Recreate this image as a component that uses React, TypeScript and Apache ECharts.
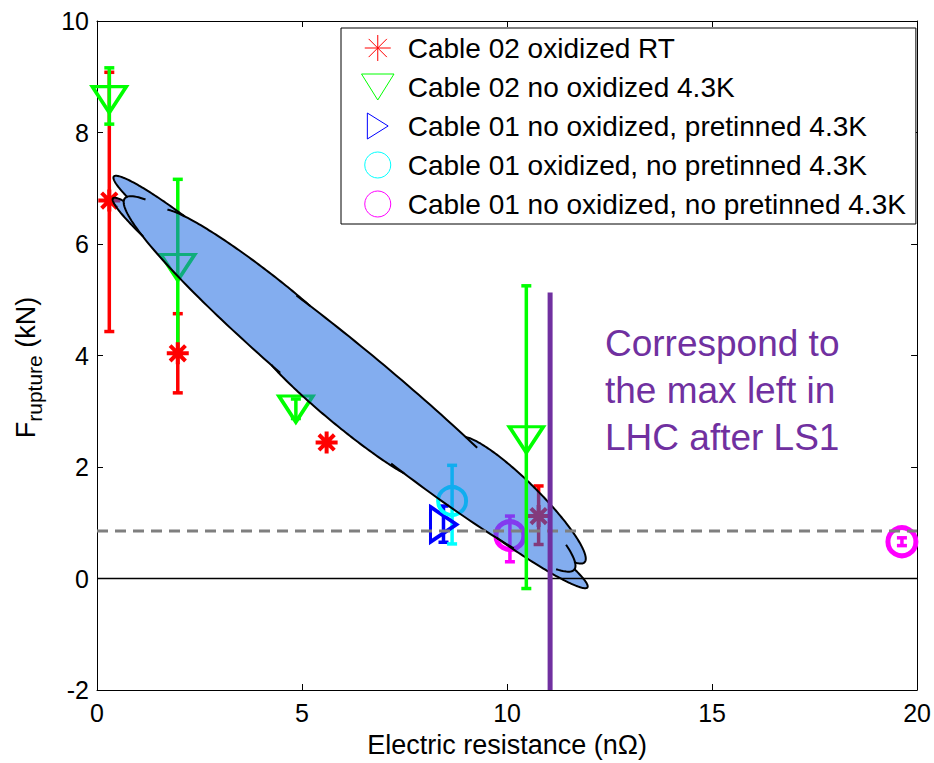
import React, { useEffect, useRef } from "react";
import * as echarts from "echarts";

// ---- data ----
const seriesNames = [
  "Cable 02 oxidized RT",
  "Cable 02 no oxidized 4.3K",
  "Cable 01 no oxidized, pretinned 4.3K",
  "Cable 01 oxidized, no pretinned 4.3K",
  "Cable 01 no oxidized, no pretinned 4.3K",
];

const redX = [0.3, 1.97, 5.6, 10.77];
const redY = [6.78, 4.04, 2.44, 1.12];
const redLo = [4.43, 3.33, null, 0.61];
const redHi = [9.08, 4.75, null, 1.66];

const greenX = [0.3, 1.97, 4.85, 10.47];
const greenY = [8.59, 5.58, 3.04, 2.49];
const greenLo = [8.15, 4.0, 2.87, -0.18];
const greenHi = [9.16, 7.16, 3.22, 5.25];
const greenOnTop = [false, false, false, true];

const blueX = [8.45];
const blueY = [0.97];
const blueLo = [0.65];
const blueHi = [1.3];

const cyanX = [8.66];
const cyanY = [1.39];
const cyanLo = [0.62];
const cyanHi = [2.03];

const magX = [10.07, 19.63];
const magY = [0.77, 0.66];
const magLo = [0.3, 0.59];
const magHi = [1.12, 0.73];

const xTickLabels = [0, 5, 10, 15, 20];
const yTickLabels = [-2, 0, 2, 4, 6, 8, 10];

const zeroLineY = 0;
const dashedLineY = 0.85;
const lhcLimitX = 11.05;
const lhcLimitTop = 5.13;
const annotationText = "Correspond to\nthe max left in\nLHC after LS1";

// blob lobes: [x1, y1, x2, y2, thickness ratio]
const blobLobes = [
  [0.41, 7.21, 3.97, 5.18, 0.13],
  [0.39, 6.82, 3.24, 5.02, 0.13],
  [1.6, 6.6, 6.2, 4.02, 0.13],
  [4.5, 4.75, 8.9, 2.22, 0.12],
  [4.02, 4.13, 7.87, 1.8, 0.117],
  [8.84, 2.52, 11.89, 0.29, 0.2],
  [7.87, 1.98, 11.96, -0.16, 0.118],
  [0.68, 6.82, 11.64, 0.16, 0.125],
];

// ---- styles ----
const FONT = "'Liberation Sans', Arial, sans-serif";
const C_RED = "#FF0000";
const C_GREEN = "#00FF00";
const C_BLUE = "#0000FF";
const C_CYAN = "#00FFFF";
const C_MAG = "#FF00FF";
const C_PURPLE = "#7030A0";

const SYM_STAR = "path://M5,0L5,10M0,5L10,5M1.5,1.5L8.5,8.5M1.5,8.5L8.5,1.5";
const SYM_TRI_DOWN = "path://M0,0L10,0L5,8Z";
const SYM_TRI_RIGHT = "path://M0,0L8,5L0,10Z";
const TRANSPARENT = "rgba(0,0,0,0)";

function zip2(xs: number[], ys: number[]) {
  return xs.map((x, i) => [x, ys[i]]);
}
function errData(xs: number[], lo: (number | null)[], hi: (number | null)[]) {
  const out: number[][] = [];
  xs.forEach((x, i) => {
    if (lo[i] != null && hi[i] != null) out.push([x, lo[i] as number, hi[i] as number]);
  });
  return out;
}

function errorSeries(name: string, data: number[][], color: string, z: number) {
  return {
    type: "custom",
    name: name + "_err",
    z,
    silent: true,
    data,
    encode: { x: 0, y: [1, 2] },
    renderItem: (params: any, api: any) => {
      const x = api.value(0);
      const p1 = api.coord([x, api.value(1)]);
      const p2 = api.coord([x, api.value(2)]);
      const cw = 5;
      const st = { stroke: color, lineWidth: 3.5 };
      return {
        type: "group",
        children: [
          { type: "line", shape: { x1: p1[0], y1: p1[1], x2: p2[0], y2: p2[1] }, style: st },
          { type: "line", shape: { x1: p1[0] - cw, y1: p1[1], x2: p1[0] + cw, y2: p1[1] }, style: st },
          { type: "line", shape: { x1: p2[0] - cw, y1: p2[1], x2: p2[0] + cw, y2: p2[1] }, style: st },
        ],
      };
    },
  };
}

function blobRender(params: any, api: any) {
  const N = 240;
  const ells = blobLobes.map(([x1, y1, x2, y2, r]) => {
    const p1 = api.coord([x1, y1]);
    const p2 = api.coord([x2, y2]);
    const cx = (p1[0] + p2[0]) / 2;
    const cy = (p1[1] + p2[1]) / 2;
    const dx = p2[0] - p1[0];
    const dy = p2[1] - p1[1];
    const a = Math.sqrt(dx * dx + dy * dy) / 2;
    const b = a * r;
    const ang = Math.atan2(dy, dx);
    const c = Math.cos(ang);
    const s = Math.sin(ang);
    const pts: number[][] = [];
    for (let k = 0; k < N; k++) {
      const t = (2 * Math.PI * k) / N;
      const lx = a * Math.cos(t);
      const ly = b * Math.sin(t);
      pts.push([cx + lx * c - ly * s, cy + lx * s + ly * c]);
    }
    return { cx, cy, a, b, c, s, pts };
  });
  const inside = (e: any, p: number[]) => {
    const dx = p[0] - e.cx;
    const dy = p[1] - e.cy;
    const lx = dx * e.c + dy * e.s;
    const ly = -dx * e.s + dy * e.c;
    return (lx / e.a) ** 2 + (ly / e.b) ** 2 < 0.99;
  };
  const pathData = ells
    .map((e) => "M" + e.pts.map((p) => p[0].toFixed(2) + " " + p[1].toFixed(2)).join("L") + "Z")
    .join(" ");
  const children: any[] = [
    {
      type: "path",
      shape: { pathData },
      style: { fill: "rgba(30,105,225,0.55)", stroke: "none" },
    },
  ];
  const lineStyle = { stroke: "#000", lineWidth: 2, fill: "none" };
  const TAIL = 22; // px of outline continuing inside the blob at notches
  ells.forEach((e, i) => {
    const others = ells.filter((_, j) => j !== i);
    const later = ells.slice(i + 1);
    const n = e.pts.length;
    const vis = e.pts.map((p) => !others.some((o) => inside(o, p)));
    const canTail = e.pts.map((p) => !later.some((o) => inside(o, p)));
    // extend visible runs by a short tail where no later lobe covers the outline
    const ext = vis.slice();
    for (let k = 0; k < n; k++) {
      if (!vis[k]) continue;
      for (const dir of [1, -1]) {
        const nb = (k + dir + n) % n;
        if (vis[nb]) continue;
        let len = 0;
        let idx = nb;
        let prev = e.pts[k];
        while (!vis[idx] && canTail[idx]) {
          const p = e.pts[idx];
          len += Math.hypot(p[0] - prev[0], p[1] - prev[1]);
          if (len > TAIL) break;
          ext[idx] = true;
          prev = p;
          idx = (idx + dir + n) % n;
        }
      }
    }
    const start = ext.indexOf(false);
    if (start < 0) {
      children.push({ type: "polyline", shape: { points: e.pts.concat([e.pts[0]]) }, style: lineStyle });
      return;
    }
    let run: number[][] = [];
    for (let k = 1; k <= n; k++) {
      const idx = (start + k) % n;
      if (ext[idx]) {
        run.push(e.pts[idx]);
      } else if (run.length) {
        if (run.length > 1) children.push({ type: "polyline", shape: { points: run }, style: lineStyle });
        run = [];
      }
    }
    if (run.length > 1) children.push({ type: "polyline", shape: { points: run }, style: lineStyle });
  });
  return { type: "group", children };
}

export default function App() {
  const ref = useRef<HTMLDivElement>(null);
  useEffect(() => {
    if (!ref.current) return;
    const chart = echarts.init(ref.current, null, { renderer: "svg" });
    const axisCommon = {
      type: "value",
      axisLine: { show: true, onZero: false, lineStyle: { color: "#000", width: 1 } },
      axisTick: { show: true, inside: true, length: 6, lineStyle: { color: "#000" } },
      splitLine: { show: false },
    };
    const option: any = {
      animation: false,
      backgroundColor: "#fff",
      textStyle: { fontFamily: FONT },
      grid: { left: 97, top: 21, right: 16, bottom: 70 },
      xAxis: [
        {
          ...axisCommon,
          min: xTickLabels[0],
          max: xTickLabels[xTickLabels.length - 1],
          interval: 5,
          position: "bottom",
          axisLabel: { color: "#000", fontSize: 25, fontFamily: FONT, margin: 10 },
          name: "Electric resistance (nΩ)",
          nameLocation: "middle",
          nameGap: 41,
          nameTextStyle: { color: "#000", fontSize: 27, fontFamily: FONT },
        },
        {
          ...axisCommon,
          min: xTickLabels[0],
          max: xTickLabels[xTickLabels.length - 1],
          interval: 5,
          position: "top",
          axisLabel: { show: false },
        },
      ],
      yAxis: [
        {
          ...axisCommon,
          min: yTickLabels[0],
          max: yTickLabels[yTickLabels.length - 1],
          interval: 2,
          position: "left",
          axisLabel: { color: "#000", fontSize: 25, fontFamily: FONT, margin: 8 },
          name: "{a|F}{s|rupture}{a| (kN)}",
          nameLocation: "middle",
          nameRotate: 90,
          nameGap: 52,
          nameTextStyle: {
            color: "#000",
            padding: [0, 24, 0, 0],
            rich: {
              a: { fontSize: 27, fontFamily: FONT, color: "#000", lineHeight: 38, verticalAlign: "middle" },
              s: { fontSize: 21, fontFamily: FONT, color: "#000", lineHeight: 38, verticalAlign: "bottom" },
            },
          },
        },
        {
          ...axisCommon,
          min: yTickLabels[0],
          max: yTickLabels[yTickLabels.length - 1],
          interval: 2,
          position: "right",
          axisLabel: { show: false },
        },
      ],
      legend: {
        orient: "vertical",
        left: 341,
        top: 28,
        backgroundColor: "#fff",
        borderColor: "#000",
        borderWidth: 1,
        borderRadius: 0,
        padding: [6, 10, 6, 20],
        itemGap: 11,
        itemWidth: 50,
        itemHeight: 26,
        textStyle: { fontSize: 28, lineHeight: 26, color: "#000", fontFamily: FONT },
        data: [
          { name: seriesNames[0], icon: SYM_STAR, itemStyle: { color: TRANSPARENT, borderColor: C_RED, borderWidth: 1 } },
          { name: seriesNames[1], icon: SYM_TRI_DOWN, itemStyle: { color: TRANSPARENT, borderColor: C_GREEN, borderWidth: 1 } },
          { name: seriesNames[2], icon: SYM_TRI_RIGHT, itemStyle: { color: TRANSPARENT, borderColor: C_BLUE, borderWidth: 1 } },
          { name: seriesNames[3], icon: "circle", itemStyle: { color: TRANSPARENT, borderColor: C_CYAN, borderWidth: 1 } },
          { name: seriesNames[4], icon: "circle", itemStyle: { color: TRANSPARENT, borderColor: C_MAG, borderWidth: 1 } },
        ],
      },
      graphic: [
        {
          type: "text",
          left: 605,
          top: 320,
          silent: true,
          style: {
            text: annotationText,
            fill: C_PURPLE,
            fontSize: 37,
            fontFamily: FONT,
            lineHeight: 47,
          },
        },
      ],
      series: [
        errorSeries("red", errData(redX, redLo, redHi), C_RED, 2),
        errorSeries(
          "green",
          errData(greenX, greenLo.map((v, i) => (greenOnTop[i] ? null : v)), greenHi),
          C_GREEN,
          2
        ),
        errorSeries(
          "greenTop",
          errData(greenX, greenLo.map((v, i) => (greenOnTop[i] ? v : null)), greenHi),
          C_GREEN,
          7
        ),
        errorSeries("blue", errData(blueX, blueLo, blueHi), C_BLUE, 2),
        errorSeries("cyan", errData(cyanX, cyanLo, cyanHi), C_CYAN, 2),
        errorSeries("mag", errData(magX, magLo, magHi), C_MAG, 2),
        {
          type: "scatter",
          name: seriesNames[0],
          z: 3,
          data: zip2(redX, redY),
          symbol: SYM_STAR,
          symbolSize: 22,
          itemStyle: { color: TRANSPARENT, borderColor: C_RED, borderWidth: 4, opacity: 1 },
        },
        {
          type: "scatter",
          name: seriesNames[1],
          z: 3,
          data: zip2(greenX, greenY),
          symbol: SYM_TRI_DOWN,
          symbolSize: [34, 26],
          itemStyle: { color: TRANSPARENT, borderColor: C_GREEN, borderWidth: 3.5, opacity: 1 },
        },
        {
          type: "scatter",
          name: seriesNames[2],
          z: 3,
          data: zip2(blueX, blueY),
          symbol: SYM_TRI_RIGHT,
          symbolSize: [26, 35],
          itemStyle: { color: TRANSPARENT, borderColor: C_BLUE, borderWidth: 3.5, opacity: 1 },
        },
        {
          type: "scatter",
          name: seriesNames[3],
          z: 3,
          data: zip2(cyanX, cyanY),
          symbol: "circle",
          symbolSize: 28,
          itemStyle: { color: TRANSPARENT, borderColor: C_CYAN, borderWidth: 4, opacity: 1 },
        },
        {
          type: "scatter",
          name: seriesNames[4],
          z: 3,
          data: zip2(magX, magY),
          symbol: "circle",
          symbolSize: 28,
          itemStyle: { color: TRANSPARENT, borderColor: C_MAG, borderWidth: 5, opacity: 1 },
        },
        {
          type: "custom",
          name: "blob",
          z: 5,
          silent: true,
          clip: false,
          data: [[blobLobes[0][0], blobLobes[0][1]]],
          renderItem: blobRender,
        },
        {
          type: "line",
          name: "zero",
          z: 6,
          silent: true,
          symbol: "none",
          data: [
            [xTickLabels[0], zeroLineY],
            [xTickLabels[xTickLabels.length - 1], zeroLineY],
          ],
          lineStyle: { color: "#000", width: 1.5 },
        },
        {
          type: "line",
          name: "dashed",
          z: 6,
          silent: true,
          symbol: "none",
          data: [
            [xTickLabels[0], dashedLineY],
            [xTickLabels[xTickLabels.length - 1], dashedLineY],
          ],
          lineStyle: { color: "#7F7F7F", width: 3, type: [11, 7] },
        },
        {
          type: "line",
          name: "lhc",
          z: 6,
          silent: true,
          symbol: "none",
          data: [
            [lhcLimitX, yTickLabels[0]],
            [lhcLimitX, lhcLimitTop],
          ],
          lineStyle: { color: C_PURPLE, width: 5 },
        },
      ],
    };
    chart.setOption(option);
    return () => chart.dispose();
  }, []);
  return (
    <div
      ref={ref}
      style={{ position: "fixed", left: 0, top: 0, width: 934, height: 763, background: "#fff" }}
    />
  );
}
